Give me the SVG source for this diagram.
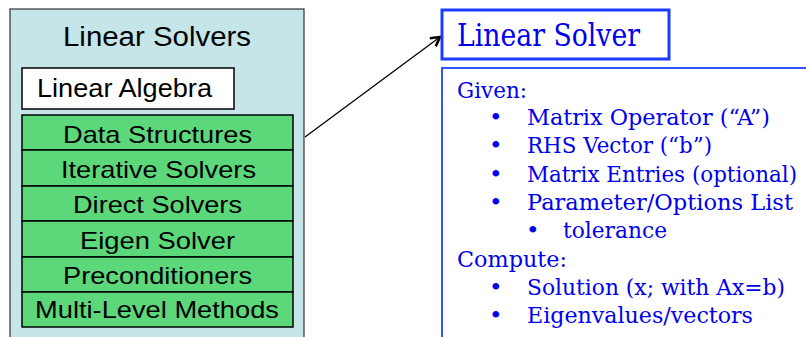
<svg xmlns="http://www.w3.org/2000/svg" width="806" height="337" viewBox="0 0 806 337">
<defs>
<style>
.sans{font-family:"Liberation Sans",Arial,sans-serif;fill:#000;text-anchor:middle}
.row{fill:#5cd87a;stroke:#000;stroke-width:1.5}
.ser{font-family:"DejaVu Serif","Liberation Serif",serif;fill:#0000ee;font-size:23px}
</style>
<marker id="ah" viewBox="0 0 12 12" refX="10" refY="6" markerWidth="12" markerHeight="12" markerUnits="userSpaceOnUse" orient="auto">
<path d="M1,1 L10,6 L1,11" fill="none" stroke="#000" stroke-width="2.5"/>
</marker>
</defs>
<rect width="806" height="337" fill="#fff"/>
<g id="linear-solvers">
<rect x="10" y="9" width="294" height="340" fill="#c5e5e8" stroke="#333" stroke-width="1.2"/>
<text class="sans" x="157" y="46" font-size="27" textLength="188" lengthAdjust="spacingAndGlyphs">Linear Solvers</text>
</g>
<g id="linear-algebra">
<rect x="22" y="68" width="212" height="41" fill="#fff" stroke="#000" stroke-width="1.5"/>
<text class="sans" x="124.5" y="97" font-size="25" textLength="175" lengthAdjust="spacingAndGlyphs">Linear Algebra</text>
</g>
<g id="data-structures"><rect class="row" x="22" y="115" width="271" height="35"/><text class="sans" x="157.5" y="143" font-size="24" textLength="189" lengthAdjust="spacingAndGlyphs">Data Structures</text></g>
<g id="iterative-solvers"><rect class="row" x="22" y="150" width="271" height="36"/><text class="sans" x="158.5" y="178" font-size="24" textLength="195" lengthAdjust="spacingAndGlyphs">Iterative Solvers</text></g>
<g id="direct-solvers"><rect class="row" x="22" y="186" width="271" height="35"/><text class="sans" x="157.5" y="213" font-size="24" textLength="169" lengthAdjust="spacingAndGlyphs">Direct Solvers</text></g>
<g id="eigen-solver"><rect class="row" x="22" y="221" width="271" height="36"/><text class="sans" x="157.5" y="249" font-size="24" textLength="155" lengthAdjust="spacingAndGlyphs">Eigen Solver</text></g>
<g id="preconditioners"><rect class="row" x="22" y="257" width="271" height="35"/><text class="sans" x="157.5" y="284" font-size="24" textLength="189" lengthAdjust="spacingAndGlyphs">Preconditioners</text></g>
<g id="multi-level"><rect class="row" x="22" y="292" width="271" height="35"/><text class="sans" x="157" y="318" font-size="24" textLength="244" lengthAdjust="spacingAndGlyphs">Multi-Level Methods</text></g>
<g id="connectors">
<line x1="305" y1="137" x2="440" y2="37" stroke="#000" stroke-width="1.3" marker-end="url(#ah)"/>
</g>
<g id="linear-solver">
<rect x="442" y="10" width="227" height="49" fill="#fff" stroke="#1a3cff" stroke-width="3"/>
<text x="457" y="46" font-family="DejaVu Serif,Liberation Serif,serif" font-size="31" fill="#0000ee" textLength="183" lengthAdjust="spacingAndGlyphs">Linear Solver</text>
</g>
<g id="details">
<rect x="442" y="68" width="380" height="290" fill="#fff" stroke="#3355ff" stroke-width="2"/>
<text class="ser" x="457" y="98" textLength="70" lengthAdjust="spacingAndGlyphs">Given:</text>
<text class="ser" x="489" y="125">•</text><text class="ser" x="527" y="125" textLength="243" lengthAdjust="spacingAndGlyphs">Matrix Operator (“A”)</text>
<text class="ser" x="489" y="153">•</text><text class="ser" x="527" y="153" textLength="185" lengthAdjust="spacingAndGlyphs">RHS Vector (“b”)</text>
<text class="ser" x="489" y="182">•</text><text class="ser" x="527" y="182" font-size="20" textLength="270" lengthAdjust="spacingAndGlyphs">Matrix Entries (optional)</text>
<text class="ser" x="489" y="210">•</text><text class="ser" x="527" y="210" textLength="266" lengthAdjust="spacingAndGlyphs">Parameter/Options List</text>
<text class="ser" x="526" y="238">•</text><text class="ser" x="563" y="238" textLength="104" lengthAdjust="spacingAndGlyphs">tolerance</text>
<text class="ser" x="457" y="267" textLength="110" lengthAdjust="spacingAndGlyphs">Compute:</text>
<text class="ser" x="489" y="295">•</text><text class="ser" x="527" y="295" textLength="258" lengthAdjust="spacingAndGlyphs">Solution (x; with Ax=b)</text>
<text class="ser" x="489" y="323">•</text><text class="ser" x="527" y="323" textLength="226" lengthAdjust="spacingAndGlyphs">Eigenvalues/vectors</text>
</g>
</svg>
